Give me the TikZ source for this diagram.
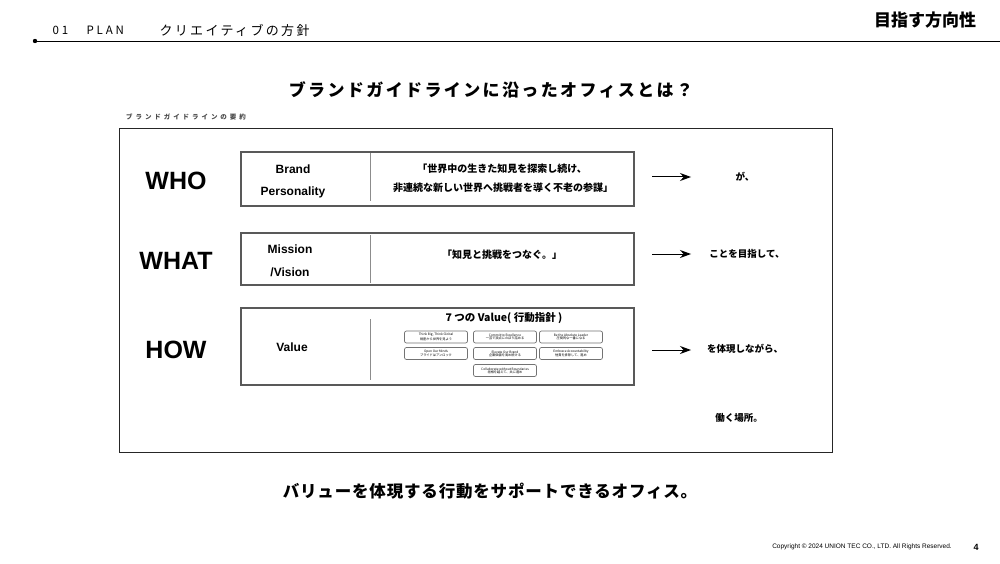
\documentclass[tikz,border=0pt]{standalone}
\usepackage{fontspec}
\setmainfont{Noto Sans CJK JP}
\newfontfamily\jp{Noto Sans CJK JP}
\newfontfamily\ar{Liberation Sans}
\usetikzlibrary{arrows.meta}
\newcommand{\fsz}[1]{\fontsize{#1}{#1}\selectfont}
\newcommand{\lsp}[1]{\addfontfeature{LetterSpace=#1}}
\begin{document}
\begin{tikzpicture}[x=1pt,y=-1pt,
  big/.style={font=\ar\bfseries\fsz{25}},
  lbl/.style={font=\ar\bfseries\fsz{12}, align=center},
  quote/.style={font=\jp\bfseries\fsz{10}, align=center},
  rowbox/.style={draw=black!65, line width=1.2pt, minimum width=393pt, inner sep=0pt},
  divline/.style={draw=black!45, line width=0.6pt},
  arr/.style={-{Stealth[length=11pt,width=8pt]}, line width=1pt},
  rtxt/.style={font=\jp\bfseries\fsz{9.5}},
  vbox/.style={draw=black!55, line width=0.7pt, rounded corners=2pt, minimum width=63pt, minimum height=12pt, inner sep=0pt, align=center, font=\jp\fsz{3.2}}
]
\useasboundingbox (0,0) rectangle (1000,564);
\fill[white] (0,0) rectangle (1000,564);

% header
\node[anchor=west, font=\jp\fsz{11.5}\lsp{25}] (num) at (49,30) {01};
\node[anchor=west, font=\jp\fsz{11.5}\lsp{25}] (plan) at (83,30) {PLAN};
\node[anchor=west, font=\jp\fsz{13}\lsp{18}] (sect) at (156,30) {クリエイティブの方針};
\node[font=\jp\bfseries\fsz{17}] (pagetitle) at (925,20) {目指す方向性};
\coordinate (hl) at (35,41);
\coordinate (hr) at (1000,41);
\draw[line width=0.9pt] (hl) -- (hr);
\fill (hl) circle (2.2);

% title
\node[font=\jp\bfseries\fsz{17}\lsp{14}] (title) at (491,90) {ブランドガイドラインに沿ったオフィスとは？};
\node[font=\jp\bfseries\fsz{6.5}\lsp{45}, text=black!70] (small) at (186,117) {ブランドガイドラインの要約};

% frame
\draw[line width=0.9pt, black!85] (119,128) rectangle (832,452);

% WHO
\node[big] (who) at (176,181) {WHO};
\node[rowbox, minimum height=54pt] (bbox) at (437.5,179) {};
\draw[divline] (370,153) -- (370,201);
\node[lbl] (brand) at (293,169) {Brand};
\node[lbl] (pers) at (293,192) {Personality};
\node[quote] (q1) at (502,169) {「世界中の生きた知見を探索し続け、};
\node[quote] (q2) at (503,188) {非連続な新しい世界へ挑戦者を導く不老の参謀」};

% WHAT
\node[big] (what) at (176,261) {WHAT};
\node[rowbox, minimum height=52pt] (mbox) at (437.5,259) {};
\draw[divline] (370,235) -- (370,283);
\node[lbl] (miss) at (290,249) {Mission};
\node[lbl] (vis) at (290,272) {/Vision};
\node[quote] (q3) at (502,255) {「知見と挑戦をつなぐ。」};

% HOW
\node[big] (how) at (176,350) {HOW};
\node[rowbox, minimum height=77pt] (vbx) at (437.5,346.5) {};
\draw[divline] (370,319) -- (370,380);
\node[lbl] (val) at (292,347) {Value};
\node[font=\jp\bfseries\fsz{10.5}] (vtitle) at (504,318) {7 つの Value( 行動指針 )};

\node[vbox] (v1) at (436,337) {Think Big, Think Global\\視座から世界を見よう};
\node[vbox] (v2) at (505,337) {Commit to Excellence\\一芸で頂点にのぼり詰める};
\node[vbox] (v3) at (571,337) {Be the Absolute Leader\\圧倒的な一番になる};
\node[vbox] (v4) at (436,353.5) {Open Our Minds\\プライドはアンロック};
\node[vbox] (v5) at (505,353.5) {Elevate Our Brand\\企業価値を高め続ける};
\node[vbox] (v6) at (571,353.5) {Embrace Accountability\\他責を排除して、進め};
\node[vbox] (v7) at (505,370.5) {Collaborate without Boundaries\\垣根を越えて、共に進め};

% arrows and right texts
\coordinate (a1s) at (652,177); \coordinate (a1e) at (691,177);
\coordinate (a2s) at (652,254); \coordinate (a2e) at (691,254);
\coordinate (a3s) at (652,350); \coordinate (a3e) at (691,350);
\draw[arr] (a1s) -- (a1e);
\draw[arr] (a2s) -- (a2e);
\draw[arr] (a3s) -- (a3e);
\node[rtxt] (t1) at (745,177) {が、};
\node[rtxt] (t2) at (747,254) {ことを目指して、};
\node[rtxt] (t3) at (745,349) {を体現しながら、};
\node[rtxt] (t4) at (739,418) {働く場所。};

% bottom
\node[font=\jp\bfseries\fsz{16.5}\lsp{5}] (bottom) at (490,491) {バリューを体現する行動をサポートできるオフィス。};
\node[font=\ar\fsz{6.5}] (copy) at (862,547) {Copyright © 2024 UNION TEC CO., LTD. All Rights Reserved.};
\node[font=\ar\bfseries\fsz{9}] (pnum) at (976,547) {4};
\end{tikzpicture}
\end{document}
